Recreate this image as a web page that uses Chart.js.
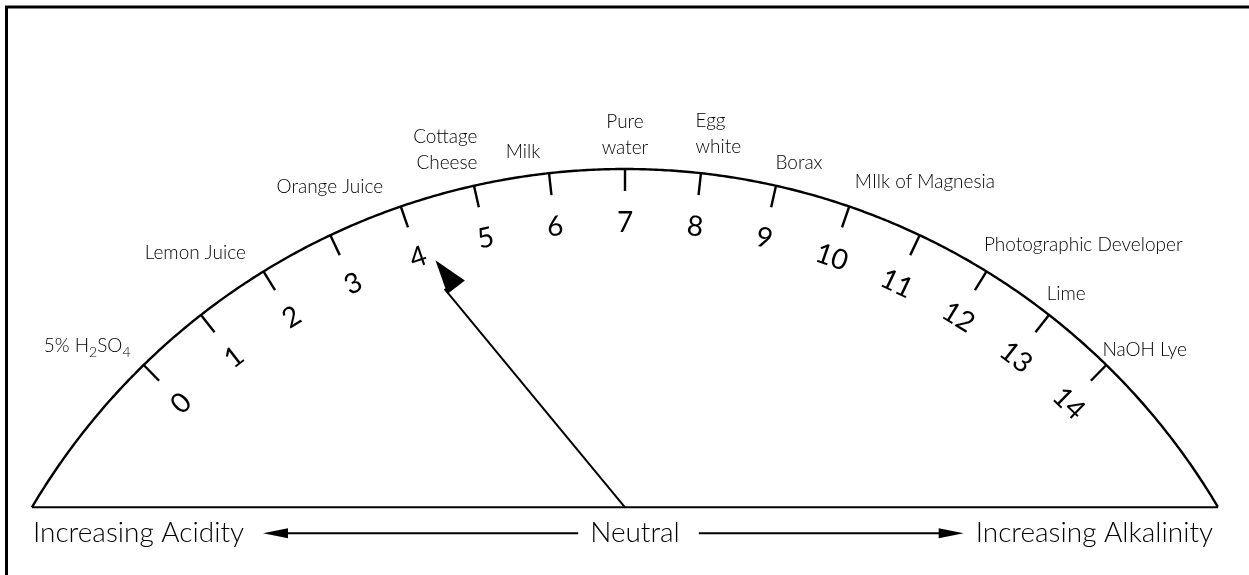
<!DOCTYPE html>
<html>
<head>
<meta charset="utf-8">
<script src="https://cdn.jsdelivr.net/npm/chart.js@4/dist/chart.umd.min.js"></script>
<style>
  html, body { margin: 0; padding: 0; background: #fff; }
  #c { display: block; }
</style>
</head>
<body>
<canvas id="c" width="1249" height="575"></canvas>
<script>
// ── Data ─────────────────────────────────────────────────────────────────
const phValues   = [0, 1, 2, 3, 4, 5, 6, 7, 8, 9, 10, 11, 12, 13, 14];
const tickLabels = ["0", "1", "2", "3", "4", "5", "6", "7", "8", "9", "10", "11", "12", "13", "14"];

// substances, and where along the scale each name sits
const substances = [
  "5% H_2SO_4", "Lemon Juice", "Orange Juice", "Cottage\nCheese", "Milk",
  "Pure\nwater", "Egg\nwhite", "Borax", "MIlk of Magnesia",
  "Photographic Developer", "Lime", "NaOH Lye",
];
const substancePH = [-0.33, 1.41, 3.25, 4.75, 5.70, 7.0, 8.16, 9.22, 10.78, 12.81, 13.01, 14.21];

const pointerPH = 4.22;

const bottomTexts = ["Increasing Acidity", "Neutral", "Increasing Alkalinity"];

// ── Layout (not data) ───────────────────────────────────────────────────
const UNIT = 689;            // px per radius
const CX = 625, CY = 858;    // dial centre in px
const DEG_PER_PH = 6.33;
const ARC_HALF = 59.4;       // deg
const TICK_IN = 0.968;
const NUM_R = 0.922;
const POINTER_R = 0.91;
const labelRadius = [1.078, 1.077, 1.064, 1.060, 1.035, 1.049, 1.059, 1.040, 1.073, 1.111, 1.039, 1.055];
const labelAlign  = ["center", "center", "center", "right", "center", "center", "left", "center", "center", "center", "center", "center"];
const LINE_GAP = 26;

const FONT = 'Lato, "Open Sans", "DejaVu Sans", sans-serif';
const LABEL_W = 300;

// ── Helpers ──────────────────────────────────────────────────────────────
const rad = (d) => (d * Math.PI) / 180;
const angleOf = (ph) => rad((ph - 7) * DEG_PER_PH);
const polar = (ph, r) => ({ x: r * Math.sin(angleOf(ph)), y: r * Math.cos(angleOf(ph)) });
const polarDeg = (deg, r) => ({ x: r * Math.sin(rad(deg)), y: r * Math.cos(rad(deg)) });

const baseY = Math.cos(rad(ARC_HALF));

const arcPts = [];
for (let d = -ARC_HALF; d <= ARC_HALF + 1e-9; d += 0.25) arcPts.push(polarDeg(d, 1));

const lineDs = (data, width) => ({
  data,
  showLine: true,
  borderColor: "#000",
  borderWidth: width,
  pointRadius: 0,
  fill: false,
  tension: 0,
  borderCapStyle: "butt",
});

const datasets = [
  lineDs(arcPts, 2.4),
  lineDs([polarDeg(-ARC_HALF, 1), polarDeg(ARC_HALF, 1)], 2),
  ...phValues.map((ph) => lineDs([polar(ph, 1), polar(ph, TICK_IN)], 2.4)),
  lineDs([{ x: 0, y: baseY }, polar(pointerPH, POINTER_R - 30 / UNIT)], 2),
];

// rich text: "_x" = subscript char run
const drawRich = (ctx, text, x, y, size, align) => {
  const runs = [];
  const re = /_(\d+)|([^_]+)/g;
  let m;
  while ((m = re.exec(text))) runs.push(m[1] ? { t: m[1], sub: true } : { t: m[2], sub: false });
  const fontFor = (r) => `${LABEL_W} ${r.sub ? Math.round(size * 0.75) : size}px ${FONT}`;
  let w = 0;
  runs.forEach((r) => { ctx.font = fontFor(r); r.w = ctx.measureText(r.t).width; w += r.w; });
  let sx = align === "left" ? x : align === "right" ? x - w : x - w / 2;
  ctx.textAlign = "left";
  runs.forEach((r) => {
    ctx.font = fontFor(r);
    ctx.fillText(r.t, sx, y + (r.sub ? 7 : 0));
    sx += r.w;
  });
};

const arrowHead = (ctx, tx, ty, dx, dy, len, half) => {
  const n = Math.hypot(dx, dy);
  const ux = dx / n, uy = dy / n;
  const bx = tx - ux * len, by = ty - uy * len;
  ctx.beginPath();
  ctx.moveTo(tx, ty);
  ctx.lineTo(bx - uy * half, by + ux * half);
  ctx.lineTo(bx + uy * half, by - ux * half);
  ctx.closePath();
  ctx.fill();
};

const dialText = {
  id: "dialText",
  afterDatasetsDraw(chart) {
    const { ctx, scales } = chart;
    const px = (p) => [scales.x.getPixelForValue(p.x), scales.y.getPixelForValue(p.y)];
    ctx.save();
    ctx.fillStyle = "#000";
    ctx.strokeStyle = "#000";

    // numbers around the dial
    phValues.forEach((ph, i) => {
      const [x, y] = px(polar(ph, NUM_R));
      ctx.save();
      ctx.translate(x, y);
      ctx.rotate(angleOf(ph));
      ctx.font = `400 28px ${FONT}`;
      ctx.textAlign = "center";
      ctx.textBaseline = "middle";
      ctx.fillText(tickLabels[i], 0, 0);
      ctx.restore();
    });

    // substance names
    ctx.textBaseline = "middle";
    substances.forEach((name, i) => {
      const [x, y] = px(polar(substancePH[i], labelRadius[i]));
      const lines = name.split("\n");
      const top = y - ((lines.length - 1) * LINE_GAP) / 2;
      const widths = lines.map((l) => { ctx.font = `${LABEL_W} 19px ${FONT}`; return ctx.measureText(l).width; });
      const maxW = Math.max(...widths);
      lines.forEach((l, k) => {
        let ax = x, al = "center";
        if (labelAlign[i] === "right") { ax = x + maxW / 2; al = "right"; }
        if (labelAlign[i] === "left")  { ax = x - maxW / 2; al = "left"; }
        drawRich(ctx, l, ax, top + k * LINE_GAP, 19, al);
      });
    });

    // pointer arrowhead
    const [b0x, b0y] = px({ x: 0, y: baseY });
    const [tx, ty] = px(polar(pointerPH, POINTER_R));
    arrowHead(ctx, tx, ty, tx - b0x, ty - b0y, 34, 11);

    // bottom row
    const rowY = b0y + 26;
    ctx.font = `${LABEL_W} 28px ${FONT}`;
    ctx.textBaseline = "middle";
    const [leftX] = px(polarDeg(-ARC_HALF, 1));
    const [rightX] = px(polarDeg(ARC_HALF, 1));
    const wL = ctx.measureText(bottomTexts[0]).width;
    const wN = ctx.measureText(bottomTexts[1]).width;
    const wR = ctx.measureText(bottomTexts[2]).width;
    const nx = b0x + 10;
    ctx.textAlign = "left";
    ctx.fillText(bottomTexts[0], leftX + 1, rowY);
    ctx.textAlign = "center";
    ctx.fillText(bottomTexts[1], nx, rowY);
    ctx.textAlign = "right";
    ctx.fillText(bottomTexts[2], rightX - 5, rowY);

    ctx.lineWidth = 2;
    const l1 = leftX + 1 + wL + 19, l2 = nx - wN / 2 - 12;
    const r1 = nx + wN / 2 + 19, r2 = rightX - 5 - wR - 12;
    ctx.beginPath();
    ctx.moveTo(l1 + 20, rowY); ctx.lineTo(l2, rowY);
    ctx.moveTo(r1, rowY); ctx.lineTo(r2 - 20, rowY);
    ctx.stroke();
    arrowHead(ctx, l1, rowY, -1, 0, 25, 5);
    arrowHead(ctx, r2, rowY, 1, 0, 25, 5);

    // frame (top and left edges)
    ctx.lineWidth = 3;
    ctx.beginPath();
    ctx.moveTo(6.5, 575); ctx.lineTo(6.5, 7); ctx.lineTo(1249, 7);
    ctx.stroke();
    ctx.restore();
  },
};

new Chart(document.getElementById("c"), {
  type: "scatter",
  data: { datasets },
  options: {
    responsive: false,
    animation: false,
    layout: { padding: 0 },
    plugins: { legend: { display: false }, tooltip: { enabled: false } },
    scales: {
      x: { display: false, min: -CX / UNIT, max: (1249 - CX) / UNIT },
      y: { display: false, min: (CY - 575) / UNIT, max: CY / UNIT },
    },
  },
  plugins: [dialText],
});
</script>
</body>
</html>
